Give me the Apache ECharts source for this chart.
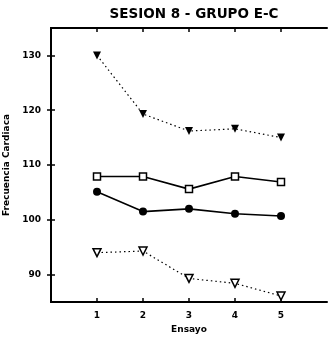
<!DOCTYPE html>
<html><head><meta charset="utf-8">
<script src="https://cdn.jsdelivr.net/npm/echarts@6/dist/echarts.min.js"></script>
<style>html,body{margin:0;padding:0;background:#fff}#c{width:329px;height:339px}</style>
</head><body><div id="c"></div>
<script>
const ensayos = [1, 2, 3, 4, 5];
const trianguloLleno = [130.0, 119.3, 116.2, 116.6, 115.0];
const cuadradoAbierto = [107.9, 107.9, 105.6, 107.9, 106.9];
const circuloLleno = [105.1, 101.5, 102.0, 101.1, 100.7];
const trianguloAbierto = [94.0, 94.3, 89.3, 88.4, 86.1];
const yTicks = [90, 100, 110, 120, 130];
const xTicks = [1, 2, 3, 4, 5];

const pair = arr => ensayos.map((x, i) => [x, arr[i]]);
const font = 'DejaVu Sans';
const chart = echarts.init(document.getElementById('c'));
const axisCommon = {
  axisLine: {show: true, lineStyle: {color: '#000', width: 2}},
  splitLine: {show: false},
};
chart.setOption({
  animation: false,
  title: {text: 'SESION 8 - GRUPO E-C', left: 189, top: 2, textAlign: 'center',
    textStyle: {fontFamily: font, fontSize: 13.5, fontWeight: 'bold', color: '#000'}},
  grid: {left: 51, right: 2, top: 28, bottom: 37, outerBoundsMode: 'none', containLabel: false},
  xAxis: [
    Object.assign({type: 'value', min: 0, max: 6, position: 'bottom',
      name: 'Ensayo', nameLocation: 'middle', nameGap: 21,
      nameTextStyle: {fontFamily: font, fontSize: 9, fontWeight: 'bold', color: '#000'},
      axisTick: {inside: true, length: 4, customValues: xTicks, lineStyle: {color: '#000', width: 1.5}},
      axisLabel: {customValues: xTicks, margin: 9, fontFamily: font, fontSize: 9, fontWeight: 'bold', color: '#000'}}, axisCommon),
    Object.assign({type: 'value', min: 0, max: 6, position: 'top',
      axisTick: {inside: true, length: 4, customValues: xTicks, lineStyle: {color: '#000', width: 1.5}},
      axisLabel: {show: false}}, axisCommon)
  ],
  yAxis: [
    Object.assign({type: 'value', min: 85, max: 135, position: 'left',
      name: 'Frecuencia Cardiaca', nameLocation: 'middle', nameGap: 37, nameRotate: 90,
      nameTextStyle: {fontFamily: font, fontSize: 9, fontWeight: 'bold', color: '#000'},
      axisTick: {inside: true, length: 4, customValues: yTicks, lineStyle: {color: '#000', width: 1.5}},
      axisLabel: {customValues: yTicks, margin: 10, fontFamily: font, fontSize: 9, fontWeight: 'bold', color: '#000'}}, axisCommon),
    Object.assign({type: 'value', min: 85, max: 135, position: 'right',
      axisTick: {inside: true, length: 4, customValues: yTicks, lineStyle: {color: '#000', width: 1.5}},
      axisLabel: {show: false}}, axisCommon)
  ],
  series: [
    {type: 'line', data: pair(trianguloLleno), symbol: 'triangle', symbolRotate: 180, symbolSize: 8,
      lineStyle: {color: '#000', width: 1.2, type: [1.5, 3]}, itemStyle: {color: '#000'}},
    {type: 'line', data: pair(cuadradoAbierto), symbol: 'rect', symbolSize: 7,
      lineStyle: {color: '#000', width: 1.6}, itemStyle: {color: '#fff', borderColor: '#000', borderWidth: 1.5}},
    {type: 'line', data: pair(circuloLleno), symbol: 'circle', symbolSize: 8,
      lineStyle: {color: '#000', width: 1.6}, itemStyle: {color: '#000'}},
    {type: 'line', data: pair(trianguloAbierto), symbol: 'triangle', symbolRotate: 180, symbolSize: 8,
      lineStyle: {color: '#000', width: 1.2, type: [1.5, 3]}, itemStyle: {color: '#fff', borderColor: '#000', borderWidth: 1.5}}
  ]
});
</script></body></html>
